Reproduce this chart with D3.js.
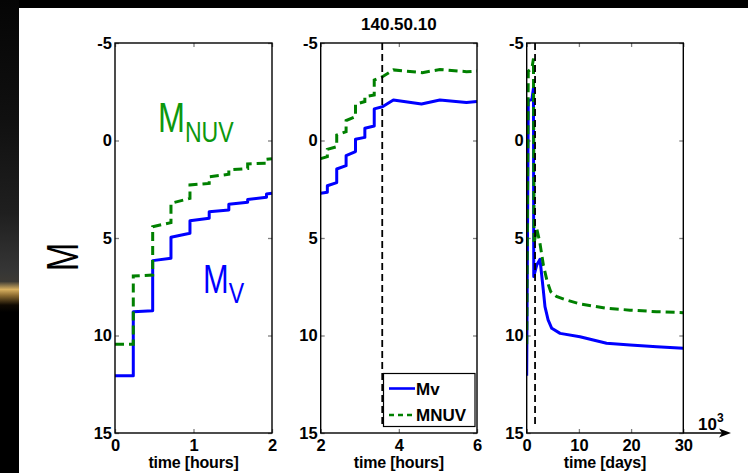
<!DOCTYPE html>
<html>
<head>
<meta charset="utf-8">
<script src="https://cdn.jsdelivr.net/npm/d3@7"></script>
<style>
  html, body { margin: 0; padding: 0; background: #000; }
  svg { display: block; }
  text { font-family: "Liberation Sans", Arial, Helvetica, sans-serif; }
</style>
</head>
<body>
<svg id="chart" width="748" height="473"></svg>
<script>
// ---- data -------------------------------------------------------------
// early rise, first two hours: [time in hours, magnitude]
const mvEarly = [[0,12.06],[0.233,12.06],[0.233,8.78],[0.48,8.73],[0.48,6.16],[0.713,6.04],[0.713,4.96],[0.955,4.76],[0.955,4.11],[1.2,3.99],[1.2,3.65],[1.45,3.56],[1.45,3.27],[1.69,3.17],[1.69,3.02],[1.93,2.91],[1.93,2.74],[2,2.7]];
const mnuvEarly = [[0,10.45],[0.233,10.45],[0.233,6.95],[0.48,6.9],[0.48,4.42],[0.713,4.21],[0.713,3.22],[0.955,2.97],[0.955,2.28],[1.2,2.2],[1.2,1.86],[1.45,1.73],[1.45,1.51],[1.69,1.44],[1.69,1.2],[1.93,1.17],[1.93,0.96],[2,0.93]];

// hours 2 to 6
const mvMid = [[2,2.7],[2.17,2.65],[2.17,2.32],[2.41,2.16],[2.41,1.46],[2.65,1.29],[2.65,0.78],[2.89,0.57],[2.89,-0.06],[3.13,-0.16],[3.13,-0.63],[3.37,-0.74],[3.37,-1.62],[3.58,-1.73],[3.86,-2.08],[4.58,-1.87],[5.05,-2.08],[5.73,-1.95],[6,-2.0]];
const mnuvMid = [[2,0.93],[2.17,0.83],[2.17,0.45],[2.41,0.32],[2.41,-0.28],[2.65,-0.45],[2.65,-1.02],[2.89,-1.22],[2.89,-1.86],[3.13,-2.0],[3.13,-2.25],[3.37,-2.33],[3.37,-3.1],[3.58,-3.27],[3.86,-3.62],[4.6,-3.48],[5.05,-3.64],[5.73,-3.53],[6,-3.56]];

// long-term decline: [time in 10^3 days, magnitude]
const mvLate = [[0,12.06],[0.3,-2.05],[1.0,-2.1],[1.3,-2.7],[1.35,6.98],[1.9,6.4],[2.55,6.09],[3.18,7.67],[3.5,8.52],[4.1,9.2],[4.8,9.63],[6.4,9.89],[10.2,10.06],[15.3,10.4],[19.8,10.49],[24.9,10.58],[30,10.66]];
const mnuvLate = [[0,10.45],[0.3,-3.55],[1.0,-3.7],[1.3,-4.2],[1.4,5.3],[1.9,4.5],[2.5,5.2],[3.2,6.4],[3.9,7.2],[4.6,7.75],[5.7,8.0],[7.6,8.18],[10.2,8.38],[15.3,8.6],[19.8,8.7],[24.9,8.78],[30,8.83]];

const markerHours = 3.575;   // vertical marker, middle panel
const markerKdays = 1.6;     // vertical marker, right panel

const magTicks = [-5, 0, 5, 10, 15];
const hourTicksA = [0, 1, 2];
const hourTicksB = [2, 4, 6];
const dayTicks = [0, 10, 20, 30];
const seriesNames = ["Mv", "MNUV"];
const titleText = "140.50.10";

// ---- styling ------------------------------------------------------------
const BLUE = "#0000ff", GREEN = "#008000", GREEN_TXT = "#0d980d";
const svg = d3.select("#chart");
const defs = svg.append("defs");

// backdrop: dark band at the top, dark gradient strip with a warm glint on the left
const grad = defs.append("linearGradient").attr("id", "strip").attr("x1", 0).attr("y1", 0).attr("x2", 0).attr("y2", 1);
[[0, "#050505"], [0.25, "#101010"], [0.45, "#1f1f1f"], [0.57, "#353535"], [0.595, "#3c3a34"], [0.612, "#d8b060"], [0.625, "#8a6a30"], [0.645, "#100a02"], [0.66, "#000"], [1, "#000"]]
  .forEach(([o, c]) => grad.append("stop").attr("offset", o).attr("stop-color", c));
svg.append("rect").attr("width", 748).attr("height", 473).attr("fill", "#000");
svg.append("rect").attr("x", 0).attr("y", 0).attr("width", 19).attr("height", 473).attr("fill", "url(#strip)");
svg.append("rect").attr("x", 19).attr("y", 8).attr("width", 729).attr("height", 465).attr("fill", "#fff");

const plotTop = 43, plotBottom = 433;
const y = d3.scaleLinear().domain([-5, 15]).range([plotTop, plotBottom]);
const plain = d => String(d);   // hyphen-minus, as printed on the axes

const panels = [
  { x0: 115, x1: 272, domain: [0, 2], ticks: hourTicksA, label: "time [hours]", mv: mvEarly, nuv: mnuvEarly },
  { x0: 320.7, x1: 477, domain: [2, 6], ticks: hourTicksB, label: "time [hours]", mv: mvMid, nuv: mnuvMid, marker: markerHours, legend: true, title: titleText },
  { x0: 526.7, x1: 683.3, domain: [0, 30], ticks: dayTicks, label: "time [days]", mv: mvLate, nuv: mnuvLate, marker: markerKdays, exponent: true }
];

panels.forEach((p, i) => {
  const x = d3.scaleLinear().domain(p.domain).range([p.x0, p.x1]);
  const g = svg.append("g");
  const clipId = "clip" + i;
  defs.append("clipPath").attr("id", clipId).append("rect")
    .attr("x", p.x0).attr("y", plotTop).attr("width", p.x1 - p.x0).attr("height", plotBottom - plotTop);

  // inward tick marks on all four sides
  const tickStyle = sel => {
    sel.select(".domain").remove();
    sel.selectAll(".tick line").attr("stroke", "#808080").attr("stroke-width", 1.3);
    sel.selectAll(".tick text").attr("font-size", 16.5).attr("font-weight", "bold").attr("fill", "#000");
  };
  g.append("g").attr("transform", `translate(0,${plotBottom})`)
    .call(d3.axisBottom(x).tickValues(p.ticks).tickSize(-4).tickPadding(6).tickFormat(plain))
    .call(tickStyle);
  g.append("g").attr("transform", `translate(0,${plotTop})`)
    .call(d3.axisTop(x).tickValues(p.ticks).tickSize(-4).tickFormat(""))
    .call(tickStyle);
  g.append("g").attr("transform", `translate(${p.x0},0)`)
    .call(d3.axisLeft(y).tickValues(magTicks).tickSize(-4).tickPadding(3).tickFormat(plain))
    .call(tickStyle);
  g.append("g").attr("transform", `translate(${p.x1},0)`)
    .call(d3.axisRight(y).tickValues(magTicks).tickSize(-4).tickFormat(""))
    .call(tickStyle);

  const line = d3.line().x(d => x(d[0])).y(d => y(d[1]));
  const plot = g.append("g").attr("clip-path", `url(#${clipId})`);
  plot.append("path").datum(p.mv).attr("d", line)
    .attr("fill", "none").attr("stroke", BLUE).attr("stroke-width", 3).attr("stroke-linejoin", "round");
  plot.append("path").datum(p.nuv).attr("d", line)
    .attr("fill", "none").attr("stroke", GREEN).attr("stroke-width", 3).attr("stroke-dasharray", "9,5");
  if (p.marker !== undefined) {
    plot.append("line").attr("x1", x(p.marker)).attr("x2", x(p.marker))
      .attr("y1", plotTop).attr("y2", plotBottom - 5)
      .attr("stroke", "#000").attr("stroke-width", 1.8).attr("stroke-dasharray", "7,4");
  }

  // frame
  g.append("rect").attr("x", p.x0).attr("y", plotTop).attr("width", p.x1 - p.x0).attr("height", plotBottom - plotTop)
    .attr("fill", "none").attr("stroke", "#000").attr("stroke-width", 1.4);

  g.append("text").attr("x", (p.x0 + p.x1) / 2).attr("y", 468).attr("text-anchor", "middle")
    .attr("font-size", 16).attr("font-weight", "bold").attr("letter-spacing", -0.2).text(p.label);

  if (p.title) {
    g.append("text").attr("x", (p.x0 + p.x1) / 2).attr("y", 30).attr("text-anchor", "middle")
      .attr("font-size", 17).attr("font-weight", "bold").text(p.title);
  }

  if (p.legend) {
    const lg = g.append("g");
    lg.append("rect").attr("x", 383.5).attr("y", 373.5).attr("width", 91.5).attr("height", 53)
      .attr("fill", "#fff").attr("stroke", "#000").attr("stroke-width", 1.2);
    const rows = [
      { name: seriesNames[0], color: BLUE, dash: null, yy: 388.5 },
      { name: seriesNames[1], color: GREEN, dash: "5,4", yy: 415 }
    ];
    rows.forEach(r => {
      lg.append("line").attr("x1", 389).attr("x2", 415).attr("y1", r.yy).attr("y2", r.yy)
        .attr("stroke", r.color).attr("stroke-width", 2.6).attr("stroke-dasharray", r.dash);
      lg.append("text").attr("x", 416).attr("y", r.yy + 6).attr("font-size", 17)
        .attr("font-weight", "bold").text(r.name);
    });
  }

  if (p.exponent) {
    g.append("line").attr("x1", p.x1).attr("x2", 724).attr("y1", plotBottom).attr("y2", plotBottom)
      .attr("stroke", "#000").attr("stroke-width", 1.4);
    g.append("path").attr("d", `M731,${plotBottom} L719,${plotBottom - 4.5} L722,${plotBottom} L719,${plotBottom + 4.5} Z`).attr("fill", "#000");
    const t = g.append("text").attr("x", 698).attr("y", 430).attr("font-size", 17).attr("font-weight", "bold");
    t.append("tspan").text("10");
    t.append("tspan").attr("font-size", 12).attr("dy", -8).text("3");
  }
});

// axis title and series captions (condensed face)
svg.append("text").attr("transform", "translate(78,257) rotate(-90) scale(0.78,1)")
  .attr("text-anchor", "middle").attr("font-size", 44).text("M");

const capNuv = svg.append("text").attr("transform", "translate(158,131.5) scale(0.77,1)")
  .attr("fill", GREEN_TXT).attr("font-size", 42);
capNuv.append("tspan").text("M");
capNuv.append("tspan").attr("font-size", 30).attr("dy", 10).text("NUV");

const capV = svg.append("text").attr("transform", "translate(203,293.3) scale(0.77,1)")
  .attr("fill", BLUE).attr("font-size", 40);
capV.append("tspan").text("M");
capV.append("tspan").attr("font-size", 30).attr("dy", 10).text("V");
</script>
</body>
</html>
